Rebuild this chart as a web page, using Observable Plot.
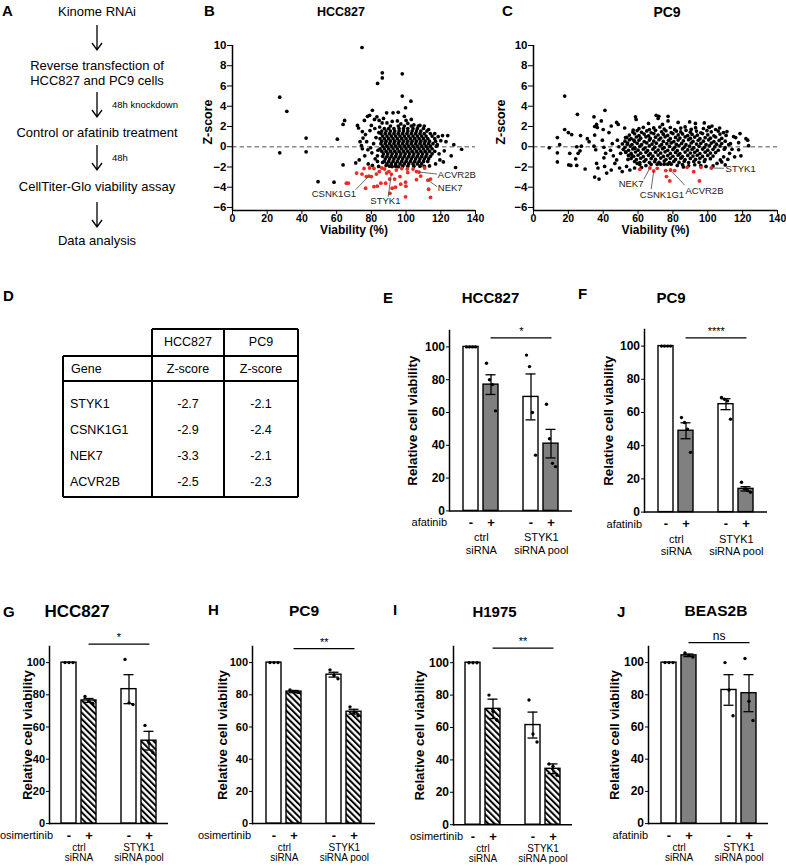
<!DOCTYPE html>
<html>
<head>
<meta charset="utf-8">
<script src="https://cdn.jsdelivr.net/npm/d3@7"></script>
<script src="https://cdn.jsdelivr.net/npm/@observablehq/plot@0.6"></script>
<style>
  html,body{margin:0;padding:0;background:#fff;}
  #fig{position:relative;width:786px;height:866px;overflow:hidden;background:#fff;font-family:"Liberation Sans",Arial,Helvetica,sans-serif;color:#000;}
  #fig > *{position:absolute;}
  .t{line-height:1;white-space:nowrap;}
</style>
</head>
<body>
<svg width="0" height="0" style="position:absolute">
  <defs>
    <pattern id="hatch" patternUnits="userSpaceOnUse" width="4.4" height="4.4" patternTransform="rotate(-45)">
      <rect width="4.4" height="4.4" fill="#fff"></rect>
      <rect width="2" height="4.4" fill="#000"></rect>
    </pattern>
  </defs>
</svg>
<div id="fig"></div>
<script>
// ================= DATA =================
// Panel A workflow
const workflowSteps = ["Kinome RNAi", "Reverse transfection of\nHCC827 and PC9 cells", "Control or afatinib treatment", "CellTiter-Glo viability assay", "Data analysis"];
const workflowNotes = ["", "48h knockdown", "48h", ""];

// Panel D table
const tableCells = ["HCC827", "PC9"];
const genes = ["STYK1", "CSNK1G1", "NEK7", "ACVR2B"];
const hccZ = [-2.7, -2.9, -3.3, -2.5];
const pc9Z = [-2.1, -2.4, -2.1, -2.3];

// Panels B/C: gene hits (viability)
const hccGeneViability = [91.5, 78.6, 112.6, 107.4];
const pc9GeneViability = [102, 69, 66.8, 78.6];

const zTicks = [-6, -4, -2, 0, 2, 4, 6, 8, 10];
const viabilityScreenTicks = [0, 20, 40, 60, 80, 100, 120, 140];

// HCC827 screen (viability %, Z-score)
const hccSparse = [[27.2,4.9],[27.2,-0.6],[31.3,3.5],[42.4,0.85],[42.4,-0.5],[49.3,-3.45],[58.5,-3.5],[60.4,0.75],[63.7,-1.8],[63.7,2.2],[64.6,2.6],[74.6,9.8],[83.6,6.25],[86.3,7.3],[86.3,6.8],[97.8,7.2],[97.8,5.0],[102.8,4.5],[99.7,3.85],[80.6,3.6],[77.8,3.0],[79,3.1],[84.5,2.6],[88.8,3.35],[92.5,3.35],[95,2.55],[72,2.1],[72.6,1.85],[74.8,1.5],[76.6,1.2],[75.2,0.85],[77.3,0.5],[74.3,0.1],[74.8,-0.2],[76.2,-0.9],[79.6,-0.1],[80.3,-0.6],[78.2,-1.7],[80.6,-1.85],[82.2,-1.2],[81.3,0.3],[79.2,1.6],[81.8,2.7],[83.2,2.95],[84.8,1.95],[86.2,2.35],[97,2.25],[101,2.3],[104.5,2.15],[108,2.1],[110.5,2.05],[113,1.7],[116.5,1.3],[118.5,1.0],[121,1.1],[124,1.1],[126,-0.9],[127.5,0.2],[132,-0.25],[128.5,-2.05],[122,-0.4],[120,0.6],[119.5,-1.3],[117,-1.7],[118,0.2],[119,-0.7],[121.5,-1.5],[123,0.5],[113.5,-1.9],[110.5,-1.95],[95.5,-1.98],[92,-1.96],[88.5,-1.85],[86.5,-1.55],[84.2,-1.95],[83.5,-0.9],[82.7,0.9],[83.8,-0.35],[84.3,1.4],[83.5,-1.45],[82,1.8],[71,-1.6],[73,-1.3],[76,2.6],[89,2.35],[92,2.5],[100,2.6],[103,2.7],[87,2.8],[95.5,3.4],[99,3.0],[80,2.1],[78,-0.3],[73.5,0.5]];
const hccCoreRows = [
  [2.05, [91, 95.5, 99, 103, 107]],
  [1.8,  [87.5, 90, 93, 96, 98.5, 101, 104, 106.5, 110]],
  [1.55, [86, 88.5, 91, 93.5, 96, 98.5, 101, 103.5, 106, 108.5, 112]],
  [1.3,  [85.5, 88, 90.5, 93, 95.5, 98, 100.5, 103, 105.5, 108, 110.5, 114]],
  [1.05, [86.5, 89, 91.5, 94, 96.5, 99, 101.5, 104, 106.5, 109, 111.5, 115]],
  [0.8,  [85, 87.5, 90, 92.5, 95, 97.5, 100, 102.5, 105, 107.5, 110, 112.5, 116.5]],
  [0.55, [86, 88.5, 91, 93.5, 96, 98.5, 101, 103.5, 106, 108.5, 111, 113.5, 117]],
  [0.3,  [85.5, 88, 90.5, 93, 95.5, 98, 100.5, 103, 105.5, 108, 110.5, 113, 115.5]],
  [0.05, [86.5, 89, 91.5, 94, 96.5, 99, 101.5, 104, 106.5, 109, 111.5, 114, 117.5]],
  [-0.2, [85, 87.5, 90, 92.5, 95, 97.5, 100, 102.5, 105, 107.5, 110, 112.5, 115]],
  [-0.45,[86, 88.5, 91, 93.5, 96, 98.5, 101, 103.5, 106, 108.5, 111, 113.5, 116.5]],
  [-0.7, [87, 89.5, 92, 94.5, 97, 99.5, 102, 104.5, 107, 109.5, 112, 115]],
  [-0.95,[86.5, 89, 91.5, 94, 96.5, 99, 101.5, 104, 106.5, 109, 111.5, 114]],
  [-1.2, [88, 90.5, 93, 95.5, 98, 100.5, 103, 105.5, 108, 110.5, 113]],
  [-1.45,[87.5, 90, 92.5, 95, 97.5, 100, 102.5, 105, 107.5, 110, 112.5]],
  [-1.7, [89, 91.5, 94, 96.5, 99, 101.5, 104, 106.5, 109]],
  [-1.92,[90.5, 94, 98, 101, 104.5, 108]]
];
const hccHits = [[65.6,-3.6],[66.7,-3.6],[71.5,-2.6],[74.6,-2.7],[77.1,-2.95],[78.6,-2.9],[80,-2.95],[75.8,-2.15],[79,-2.1],[81.5,-2.15],[76.7,-4.1],[81.5,-3.95],[83.4,-3.9],[85.5,-3.6],[82.9,-2.7],[84.6,-2.45],[86,-2.1],[87.6,-2.2],[88.8,-2.6],[90.1,-2.45],[91.5,-2.7],[93.4,-3.2],[90.5,-3.2],[88.2,-3.6],[90.7,-4.6],[92,-4.1],[93.9,-4.0],[94.4,-2.3],[96.5,-2.95],[96.9,-3.7],[97.5,-2.15],[99.7,-3.5],[99.9,-3.9],[99.7,-4.95],[100.7,-2.2],[101,-2.55],[104,-2.2],[106,-2.45],[107.4,-2.5],[106,-3.25],[108.4,-2.9],[110.7,-2.1],[112.6,-3.3],[114.1,-3.2],[113,-4.2],[114.1,-5.0]];

// PC9 screen (viability %, Z-score)
const pc9Sparse = [[9,-0.1],[13.7,0.9],[13.7,-0.6],[13.7,-1.5],[15,0.2],[17.9,5.0],[17.9,1.7],[20,1.4],[20.8,-0.65],[20.2,-1.8],[21.4,-1.85],[21.9,1.2],[25.2,3.2],[24.8,0],[25.6,-0.65],[24.2,-1.2],[24.8,-1.85],[27,1.1],[27.5,0.05],[26.7,-0.4],[29.6,-2.2],[30.9,0.8],[31.9,0.5],[34.7,2.95],[35.1,2.0],[36.2,2.2],[36.6,1.9],[35.1,1.15],[34.7,0.05],[35.7,-0.3],[36.2,-1.65],[37,-2.1],[35.1,-3.0],[37.6,-3.2],[38.9,2.55],[41,3.6],[40,1.7],[39.5,0.65],[40.4,-0.05],[41.4,-0.65],[40.4,-1.1],[40.8,-1.95],[42,-2.6],[43.3,1.4],[44.6,2.05],[45.2,0.3],[44.2,-0.35],[45.8,-0.9],[46.7,-1.65],[44.6,-2.3],[47.7,2.4],[48.6,2.2],[48.1,0.65],[49,0],[50,-0.65],[47.7,-1.3],[49.4,-2.1],[50.9,-2.45],[52.3,1.85],[52.8,0.9],[53.8,0.25],[52.8,-0.5],[54.2,-1.25],[53.4,-1.95],[55.3,-2.3],[57.2,1.65],[58.5,2.95],[58.9,2.7],[57.6,0.65],[58.2,-0.15],[56.6,-0.9],[59.5,-1.65],[58,-2.1],[70.4,3.1],[71.5,2.8],[71.9,3.0],[77.2,3.0],[77.2,2.55],[66,2.3],[74,2.2],[83,2.4],[89.6,2.45],[92.9,2.3],[98,2.35],[100.5,1.95],[102.4,2.05],[106.8,1.85],[111,1.5],[114.8,1.0],[117.7,0.4],[117.7,-0.3],[121.9,0.8],[122.9,0.65],[123.4,0.1],[115.4,-1.0],[113.9,-0.25],[112.5,-0.65],[109.1,-1.0],[107.2,-1.3],[105.3,-1.65],[110,-1.8],[108,-1.5],[113,0.3],[111.5,-1.25],[116,0.9],[119,-0.9],[118.5,1.3],[103,-1.9],[99,-1.95],[62,-2.05],[86,-2.0]];
const pc9Core = [
  [60.5,1.78],[63,1.92],[66.5,1.7],[69,1.86],[72.5,1.95],[75,1.74],[78.5,1.9],[81,1.68],[84.5,1.84],[87,1.96],[90.5,1.72],[93,1.88],[97.5,1.8],[101,1.92],[104.5,1.7],
  [57,1.45],[59.5,1.6],[62,1.42],[65,1.56],[67.5,1.38],[70,1.62],[73.5,1.48],[76,1.58],[79,1.4],[82,1.55],[84.5,1.46],[87.5,1.62],[90,1.44],[93.5,1.55],[96,1.38],[99.5,1.6],[102,1.47],[106,1.55],[109,1.4],
  [55,1.15],[58,1.28],[60.5,1.1],[63.5,1.25],[66,1.08],[69,1.3],[71.5,1.16],[74.5,1.24],[77,1.12],[80,1.3],[83,1.17],[85.5,1.26],[88.5,1.1],[91,1.22],[94,1.14],[97,1.3],[100,1.18],[103.5,1.08],[107,1.25],[110.5,1.12],
  [53.5,0.92],[56,0.8],[59,0.96],[61.5,0.84],[64.5,0.98],[67,0.82],[70,0.94],[73,0.86],[75.5,0.98],[78.5,0.8],[81.5,0.92],[84,0.85],[87,0.97],[90,0.83],[92.5,0.95],[95.5,0.8],[98.5,0.9],[101.5,0.84],[104.5,0.96],[108,0.82],
  [52.5,0.55],[55,0.68],[58,0.52],[60.5,0.64],[63.5,0.5],[66.5,0.66],[69,0.56],[72,0.7],[74.5,0.52],[77.5,0.63],[80.5,0.5],[83,0.66],[86,0.58],[89,0.7],[91.5,0.52],[94.5,0.64],[97.5,0.55],[100.5,0.68],[103.5,0.5],[106.5,0.62],[110,0.55],
  [51,0.28],[54,0.36],[56.5,0.22],[59.5,0.34],[62,0.2],[65,0.38],[68,0.26],[70.5,0.35],[73.5,0.22],[76.5,0.3],[79,0.38],[82,0.24],[85,0.33],[87.5,0.2],[90.5,0.37],[93.5,0.26],[96,0.34],[99,0.22],[102,0.36],[105,0.25],[108,0.32],[112,0.2],
  [52.5,-0.05],[55.5,0.06],[58,-0.08],[61,0.04],[64,-0.1],[66.5,0.08],[69.5,-0.04],[72.5,0.07],[75,-0.08],[78,0.03],[81,-0.06],[83.5,0.09],[86.5,-0.03],[89.5,0.05],[92,-0.09],[95,0.04],[98,-0.06],[101,0.08],[104,-0.02],[107,0.06],[110,-0.08],
  [51.5,-0.26],[54.5,-0.35],[57,-0.22],[60,-0.34],[63,-0.25],[65.5,-0.38],[68.5,-0.24],[71.5,-0.33],[74,-0.2],[77,-0.36],[80,-0.27],[82.5,-0.38],[85.5,-0.22],[88.5,-0.32],[91,-0.25],[94,-0.37],[97,-0.23],[100,-0.34],[103,-0.26],[106,-0.35],[109.5,-0.24],
  [53,-0.56],[56,-0.66],[58.5,-0.52],[61.5,-0.64],[64.5,-0.55],[67,-0.68],[70,-0.54],[73,-0.63],[75.5,-0.5],[78.5,-0.66],[81.5,-0.57],[84,-0.68],[87,-0.53],[90,-0.62],[92.5,-0.55],[95.5,-0.67],[98.5,-0.54],[101.5,-0.63],[104.5,-0.58],
  [54.5,-0.86],[57.5,-0.95],[60,-0.84],[63,-0.97],[66,-0.85],[68.5,-0.93],[71.5,-0.82],[74.5,-0.96],[77,-0.87],[80,-0.94],[83,-0.83],[85.5,-0.97],[88.5,-0.86],[91.5,-0.92],[94,-0.84],[97,-0.96],[100,-0.86],[103,-0.92],
  [56,-1.16],[59,-1.26],[61.5,-1.14],[64.5,-1.27],[67.5,-1.17],[70,-1.24],[73,-1.12],[76,-1.26],[78.5,-1.15],[81.5,-1.25],[84.5,-1.13],[87,-1.27],[90,-1.16],[93,-1.24],[95.5,-1.14],[98.5,-1.26],[101.5,-1.18],
  [58,-1.46],[61,-1.56],[63.5,-1.44],[66.5,-1.57],[69.5,-1.47],[72,-1.55],[75,-1.42],[78,-1.56],[80.5,-1.45],[83.5,-1.55],[86.5,-1.43],[89,-1.57],[92,-1.46],[95,-1.54],[98,-1.45],
  [61,-1.76],[64.5,-1.86],[67.5,-1.74],[71,-1.72],[73,-1.72],[75,-1.72],[77,-1.72],[79,-1.72],[82.5,-1.85],[85.5,-1.76],[89,-1.88],[92.5,-1.78],[96,-1.86]
];
const pc9Hits = [[61,-2.23],[66.8,-2.1],[69,-2.4],[71,-2.13],[75.9,-2.36],[76.3,-2.95],[78.2,-3.38],[78.6,-2.3],[81,-2.36],[88.1,-2.03],[91.9,-2.46],[95.2,-3.38],[96.1,-2.03],[102,-2.1]];

// Bar panels (E–J)
const conditions = ["ctrl siRNA -", "ctrl siRNA +", "STYK1 siRNA pool -", "STYK1 siRNA pool +"];
const treatmentSigns = ["-", "+", "-", "+"];
const groupLabels = ["ctrl\nsiRNA", "STYK1\nsiRNA pool"];
const viabilityTicks = [0, 20, 40, 60, 80, 100];

const eMeans = [100, 77, 69.5, 41];      const eSem = [0, 6, 14, 8.7];
const eReps = [[100,100,100,100],[90,80,77,61],[95,88,60,34],[65,44,29,27]];
const fMeans = [100, 49, 65, 14];        const fSem = [0, 4.8, 3.3, 1.3];
const fReps = [[100,100,100,100],[57,54,50,36],[69,68,67,56],[18,14,13,12]];
const gMeans = [100, 76.5, 83.5, 51.5];  const gSem = [0, 1.2, 9, 5.8];
const gReps = [[100,100,100],[79,76,74.5],[102,75,74],[61,50,44]];
const hMeans = [100, 82, 92.5, 69.5];    const hSem = [0, 0.7, 1.5, 1.5];
const hReps = [[100,100,100],[83,82,81.5],[95.5,92,90],[72.5,69,67]];
const iMeans = [100, 71.5, 61.5, 34.5];  const iSem = [0, 6, 8, 3];
const iReps = [[100,100,100],[80,70,64.5],[77,56,51],[37.5,36,30.5]];
const jMeans = [100, 104.5, 83, 81];     const jSem = [0, 0.8, 9.5, 11.5];
const jReps = [[100,100,100],[106,104.5,103.5],[100,83,67],[102.5,76,64]];
const significance = {E: "*", F: "****", G: "*", H: "**", I: "**", J: "ns"};
const significanceLevel = {E: 105.5, F: 105, G: 111.5, H: 108.7, I: 109, J: 112.4};

// ================= LAYOUT HELPERS =================
const FONT = '"Liberation Sans", Arial, Helvetica, sans-serif';
const fig = document.getElementById("fig");
const SVGNS = "http://www.w3.org/2000/svg";
const baseStyle = {fontFamily: FONT, fontSize: "11px", background: "transparent", overflow: "visible", color: "#000"};

function txt(str, x, cy, size, opts = {}) {
  const d = document.createElement("div");
  d.className = "t";
  d.textContent = str;
  d.style.fontSize = size + "px";
  d.style.fontWeight = opts.bold ? "bold" : "normal";
  d.style.top = (cy - 0.49 * size) + "px";
  d.style.left = x + "px";
  if (opts.align === "right") d.style.transform = "translateX(-100%)";
  else if (opts.align !== "left") d.style.transform = "translateX(-50%)";
  fig.appendChild(d);
}
function arrowDown(x, y1, y2) {
  const h = y2 - y1;
  const s = document.createElementNS(SVGNS, "svg");
  s.setAttribute("width", 14); s.setAttribute("height", h + 2);
  s.style.left = (x - 7) + "px"; s.style.top = y1 + "px";
  const p = document.createElementNS(SVGNS, "path");
  p.setAttribute("d", `M7,0V${h}M2,${h - 7}L7,${h}L12,${h - 7}`);
  p.setAttribute("fill", "none"); p.setAttribute("stroke", "#000"); p.setAttribute("stroke-width", "1.3");
  s.appendChild(p); fig.appendChild(s);
}
function hline(x1, x2, y) {
  const d = document.createElement("div");
  Object.assign(d.style, {left: x1 + "px", top: (y - 0.75) + "px", width: (x2 - x1) + "px", height: "1.5px", background: "#000"});
  fig.appendChild(d);
}
function vline(x, y1, y2) {
  const d = document.createElement("div");
  Object.assign(d.style, {left: (x - 0.75) + "px", top: y1 + "px", width: "1.5px", height: (y2 - y1) + "px", background: "#000"});
  fig.appendChild(d);
}
function put(svg, left, top) {
  svg.style.position = "absolute";
  svg.style.left = left + "px";
  svg.style.top = top + "px";
  fig.appendChild(svg);
}

// ================= PANEL LETTERS =================
[["A", 2, 10], ["B", 204, 10], ["C", 502, 10], ["D", 3, 295], ["E", 383, 297], ["F", 578, 293],
 ["G", 3, 611], ["H", 208, 609], ["I", 393, 609], ["J", 617, 611]].forEach(([l, x, y]) => txt(l, x, y, 15, {bold: true, align: "left"}));

// ================= PANEL A =================
const aX = 97;
const stepCy = [[11], [65.5, 80], [132], [186], [240]];
const arrowSpans = [[25, 50], [92, 117], [145, 170], [202, 227]];
workflowSteps.forEach((s, i) => s.split("\n").forEach((line, k) => txt(line, aX, stepCy[i][k], 13)));
arrowSpans.forEach(([a, b], i) => {
  arrowDown(aX, a, b);
  if (workflowNotes[i]) txt(workflowNotes[i], 112, (a + b) / 2, 9.5, {align: "left"});
});

// ================= PANEL D (table) =================
const colX = [63, 152, 224, 298];
hline(colX[1], colX[3], 329); hline(colX[0], colX[3], 356); hline(colX[0], colX[3], 381); hline(colX[0], colX[3], 497);
vline(colX[0], 356, 497); vline(colX[1], 329, 497); vline(colX[2], 329, 497); vline(colX[3], 329, 497);
const colC = [(colX[1] + colX[2]) / 2, (colX[2] + colX[3]) / 2];
tableCells.forEach((c, i) => txt(c, colC[i], 342.5, 12.5));
txt("Gene", 71, 369, 12.5, {align: "left"});
txt("Z-score", colC[0], 369, 12.5); txt("Z-score", colC[1], 369, 12.5);
genes.forEach((g, i) => {
  const cy = 404 + 26 * i;
  txt(g, 70, cy, 12.5, {align: "left"});
  txt(hccZ[i].toFixed(1), colC[0], cy, 12.5);
  txt(pc9Z[i].toFixed(1), colC[1], cy, 12.5);
});

// ================= PANELS B & C (screens) =================
const flatRows = rows => rows.flatMap(([z, vs]) => vs.map(v => [v, z]));
// annotation layout (leader end / label anchor, in data units)
const hccLabelLayout = [
  {lx: 89.7, lz: -4.94, tx: 88.1, tz: -5.39, anchor: "middle"},
  {lx: 70.9, lz: -4.25, tx: 71.2, tz: -4.68, anchor: "end"},
  {lx: 117.9, lz: -3.95, tx: 118.3, tz: -4.1, anchor: "start"},
  {lx: 117.9, lz: -2.7, tx: 118.3, tz: -2.77, anchor: "start"}
];
const pc9LabelLayout = [
  {lx: 109.2, lz: -2.13, tx: 110.2, tz: -2.2, anchor: "start"},
  {lx: 67.5, lz: -4.2, tx: 73.7, tz: -4.72, anchor: "middle"},
  {lx: 63.3, lz: -3.22, tx: 63.1, tz: -3.63, anchor: "end"},
  {lx: 86.8, lz: -3.81, tx: 87.2, tz: -4.32, anchor: "start"}
];

function screenPanel(p) {
  const ann = genes.map((g, i) => ({gene: g, v: p.geneV[i], z: p.geneZ[i], ...p.layout[i]}));
  const labelMarks = ["start", "middle", "end"].map(a =>
    Plot.text(ann.filter(d => d.anchor === a), {x: "tx", y: "tz", text: "gene", textAnchor: a, fontSize: 9.5, fill: "#222"}));
  const svg = Plot.plot({
    width: p.width, height: 240,
    marginLeft: p.ml, marginRight: p.mr, marginTop: 45, marginBottom: 30,
    style: baseStyle,
    x: {domain: [0, 140]},
    y: {domain: [-6.3, 10]},
    marks: [
      Plot.ruleY([0], {stroke: "#8a8a8a", strokeDasharray: "4.5,3", strokeWidth: 1.3}),
      Plot.dot(p.black, {x: d => d[0], y: d => d[1], r: 1.85, fill: "#000", stroke: "none"}),
      Plot.dot(p.red, {x: d => d[0], y: d => d[1], r: 1.9, fill: "#ee2a24", stroke: "none"}),
      Plot.link(ann, {x1: "v", y1: "z", x2: "lx", y2: "lz", stroke: "#444", strokeWidth: 0.8}),
      ...labelMarks,
      Plot.ruleX([0], {strokeWidth: 1.5}),
      Plot.ruleY([-6.3], {strokeWidth: 1.5}),
      Plot.axisY({ticks: zTicks, tickSize: 5, tickPadding: 1, fontWeight: "bold", fontSize: 11.5, label: null}),
      Plot.axisX({ticks: viabilityScreenTicks, tickSize: 4, tickPadding: 0, fontWeight: "bold", fontSize: 10.5, label: null}),
      Plot.text(["Viability (%)"], {frameAnchor: "bottom", text: d => d, textAnchor: "middle", lineAnchor: "middle", dy: 19.5, fontWeight: "bold", fontSize: 12}),
      Plot.text(["Z-score"], {frameAnchor: "left", text: d => d, rotate: -90, textAnchor: "middle", lineAnchor: "middle", dx: p.ylabDx, dy: -6, fontWeight: "bold", fontSize: 12.5})
    ]
  });
  put(svg, p.left, 0);
}
screenPanel({left: 195, width: 290, ml: 37, mr: 10, ylabDx: -24.5,
  black: hccSparse.concat(flatRows(hccCoreRows)), red: hccHits, geneV: hccGeneViability, geneZ: hccZ, layout: hccLabelLayout});
screenPanel({left: 492, width: 294, ml: 41, mr: 9, ylabDx: -32.5,
  black: pc9Sparse.concat(pc9Core), red: pc9Hits, geneV: pc9GeneViability, geneZ: pc9Z, layout: pc9LabelLayout});
txt("HCC827", 341, 12, 12.5, {bold: true});
txt("PC9", 667, 12, 14, {bold: true});

// ================= PANELS E–J (bars) =================
const X_DOMAIN = [conditions[0], conditions[1], "gap", conditions[2], conditions[3]];
const PI = 0.25, PO = 0.6;

function barPanel(p) {
  const frameH = 110 * p.ppu;
  const frameW = p.right - p.axis;
  const svgLeft = Math.max(0, p.axis - 64);
  const ml = p.axis - svgLeft, mt = 26, mb = 48, mr = 8;
  const top = p.base - frameH - mt;
  const step = frameW / (X_DOMAIN.length - PI + 2 * PO);
  const bars = conditions.map((c, i) => ({cond: c, mean: p.means[i], sem: p.sems[i], treated: treatmentSigns[i] === "+"}));
  const errs = bars.filter(d => d.sem > 0);
  const reps = p.reps.flatMap((arr, i) => arr.map((v, j) => ({cond: conditions[i], v, j})));
  const n = p.reps[0].length;
  const offs = n === 4 ? [-4.5, -1.5, 1.5, 4.5] : [-4, 0, 4];
  const dotMarks = offs.map((o, j) => Plot.dot(reps.filter(d => d.j === j), {x: "cond", y: "v", r: 1.7, fill: "#000", stroke: "none", dx: o}));
  const groupsData = groupLabels.map((g, k) => ({label: g, first: conditions[2 * k]}));
  const sigLine = [{cond: conditions[1], y: p.sigY}, {cond: conditions[3], y: p.sigY}];
  const svg = Plot.plot({
    width: ml + frameW + mr, height: mt + frameH + mb,
    marginLeft: ml, marginRight: mr, marginTop: mt, marginBottom: mb,
    style: baseStyle,
    x: {type: "band", domain: X_DOMAIN, paddingInner: PI, paddingOuter: PO, align: 0.5},
    y: {domain: [0, 110]},
    marks: [
      Plot.barY(bars.filter(d => !d.treated), {x: "cond", y: "mean", fill: "#fff", stroke: "#000", strokeWidth: 1.4}),
      Plot.barY(bars.filter(d => d.treated), {x: "cond", y: "mean", fill: p.fill, stroke: "#000", strokeWidth: 1.4}),
      Plot.ruleX(errs, {x: "cond", y1: d => d.mean - d.sem, y2: d => d.mean + d.sem, strokeWidth: 1.3}),
      Plot.tickY(errs, {x: "cond", y: d => d.mean + d.sem, insetLeft: 2.5, insetRight: 2.5, strokeWidth: 1.3}),
      Plot.tickY(errs, {x: "cond", y: d => d.mean - d.sem, insetLeft: 2.5, insetRight: 2.5, strokeWidth: 1.3}),
      ...dotMarks,
      Plot.ruleY([0], {strokeWidth: 1.5}),
      Plot.frame({anchor: "left", strokeWidth: 1.5}),
      Plot.axisY({ticks: viabilityTicks, tickSize: 3, tickPadding: 1.5, fontWeight: "bold", fontSize: p.tickFont, label: null}),
      Plot.axisX({ticks: conditions, tickSize: 0, tickPadding: 7, tickFormat: c => treatmentSigns[conditions.indexOf(c)], fontWeight: "bold", fontSize: 13, label: null}),
      Plot.text(groupsData, {x: "first", y: () => 0, text: "label", dx: step / 2, dy: p.groupDy, lineAnchor: "top", lineHeight: p.groupLH, fontSize: p.groupFont}),
      Plot.text([p.treatment], {x: () => conditions[0], y: () => 0, text: d => d, dx: p.treatDx, dy: 12, textAnchor: "end", lineAnchor: "middle", fontSize: 11}),
      Plot.line(sigLine, {x: "cond", y: "y", strokeWidth: 1.3}),
      Plot.text([p.sig], {x: () => "gap", y: () => p.sigY, text: d => d, dx: step / 2, dy: -3, lineAnchor: "bottom", fontSize: p.sig === "ns" ? 12 : 11}),
      Plot.text(["Relative cell viability"], {frameAnchor: "left", text: d => d, rotate: -90, textAnchor: "middle", lineAnchor: "middle", dx: p.ylabDx, fontWeight: "bold", fontSize: 13.3})
    ]
  });
  put(svg, svgLeft, top);
  txt(p.title, p.titleX, p.titleY, p.titleSize, {bold: true});
}

const topRow = {groupDy: 22, groupLH: 1.1, groupFont: 11};
const bottomRow = {groupDy: 20.5, groupLH: 1.0, groupFont: 10};
barPanel({...topRow, title: "HCC827", titleX: 490.5, titleY: 297, titleSize: 15, axis: 449, base: 510, ppu: 1.64, right: 572, tickFont: 12, ylabDx: -37,
  means: eMeans, sems: eSem, reps: eReps, fill: "#808080", treatment: "afatinib", treatDx: -24, sig: significance.E, sigY: significanceLevel.E});
barPanel({...topRow, title: "PC9", titleX: 671, titleY: 297, titleSize: 15, axis: 644, base: 512, ppu: 1.66, right: 767, tickFont: 12, ylabDx: -36,
  means: fMeans, sems: fSem, reps: fReps, fill: "#808080", treatment: "afatinib", treatDx: -24, sig: significance.F, sigY: significanceLevel.F});
barPanel({...bottomRow, title: "HCC827", titleX: 77, titleY: 611, titleSize: 17, axis: 49, base: 823, ppu: 1.61, right: 168, tickFont: 11, ylabDx: -22,
  means: gMeans, sems: gSem, reps: gReps, fill: "url(#hatch)", treatment: "osimertinib", treatDx: -16, sig: significance.G, sigY: significanceLevel.G});
barPanel({...bottomRow, title: "PC9", titleX: 304, titleY: 611, titleSize: 15.5, axis: 252, base: 823, ppu: 1.61, right: 375, tickFont: 11, ylabDx: -30,
  means: hMeans, sems: hSem, reps: hReps, fill: "url(#hatch)", treatment: "osimertinib", treatDx: -23, sig: significance.H, sigY: significanceLevel.H});
barPanel({...bottomRow, title: "H1975", titleX: 494.5, titleY: 611, titleSize: 15, axis: 453, base: 824, ppu: 1.62, right: 572, tickFont: 12, ylabDx: -34,
  means: iMeans, sems: iSem, reps: iReps, fill: "url(#hatch)", treatment: "osimertinib", treatDx: -10, sig: significance.I, sigY: significanceLevel.I});
barPanel({...bottomRow, title: "BEAS2B", titleX: 716, titleY: 611, titleSize: 15.5, axis: 648, base: 823, ppu: 1.61, right: 768, tickFont: 12, ylabDx: -34,
  means: jMeans, sems: jSem, reps: jReps, fill: "#808080", treatment: "afatinib", treatDx: -21, sig: significance.J, sigY: significanceLevel.J});
</script>
</body>
</html>
